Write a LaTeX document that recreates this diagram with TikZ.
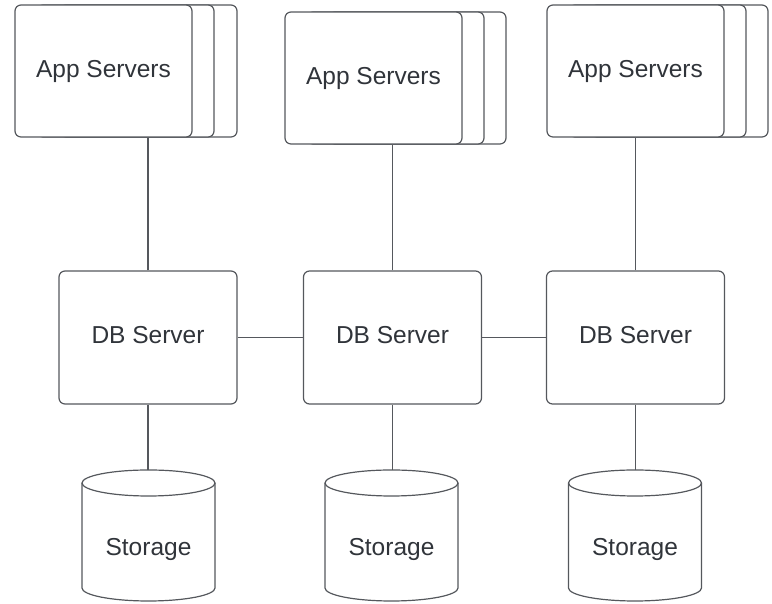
\documentclass[tikz,border=0pt]{standalone}
\usepackage{fontspec}
\setmainfont{Liberation Sans}
\definecolor{edge}{HTML}{55585D}
\definecolor{txt}{HTML}{30343A}
\begin{document}
\begin{tikzpicture}[x=1pt,y=1pt,
  box/.style={draw=edge,line width=1.2pt,fill=white,rounded corners=6pt,
    minimum width=177pt,minimum height=132pt,inner sep=0pt,
    font=\fontsize{24.5}{28}\selectfont,text=txt},
  dbbox/.style={box,minimum width=178pt,minimum height=133pt},
  lbl/.style={inner sep=0pt,font=\fontsize{24.5}{28}\selectfont,text=txt},
  wire/.style={draw=edge,line width=1.2pt},
  cyl/.style={draw=edge,line width=1.2pt,fill=white}]
\useasboundingbox (0,0) rectangle (772,604);
% App server stacks
\node[box] (a1c) at (148.5,533) {};
\node[box] (a1b) at (125.5,533) {};
\node[box] (a1) at (103.5,533) {\raisebox{5pt}{App Servers}};
\node[box] (a2c) at (417.5,526) {};
\node[box] (a2b) at (395.5,526) {};
\node[box] (a2) at (373.5,526) {\raisebox{5pt}{App Servers}};
\node[box] (a3c) at (679.5,533) {};
\node[box] (a3b) at (657.5,533) {};
\node[box] (a3) at (635.5,533) {\raisebox{5pt}{App Servers}};
% DB servers
\node[dbbox] (d1) at (148,266.5) {\raisebox{5pt}{DB Server}};
\node[dbbox] (d2) at (392.5,266.5) {\raisebox{5pt}{DB Server}};
\node[dbbox] (d3) at (635.5,266.5) {\raisebox{5pt}{DB Server}};
% Storage cylinders
\foreach \cx/\n in {148.5/1,391.5/2,635/3}{
  \draw[cyl] (\cx-66.5,121) -- (\cx-66.5,16)
    arc[start angle=180,end angle=360,x radius=66.5,y radius=13]
    -- (\cx+66.5,121)
    arc[start angle=0,end angle=180,x radius=66.5,y radius=13] -- cycle;
  \draw[cyl,fill=none] (\cx-66.5,121)
    arc[start angle=180,end angle=360,x radius=66.5,y radius=13];
  \coordinate (t\n) at (\cx,134);
}
\node[lbl] (s1) at (148.5,55) {Storage};
\node[lbl] (s2) at (391.5,55) {Storage};
\node[lbl] (s3) at (635,55) {Storage};
% connectors
\draw[wire] (d1.north) -- (d1.north |- a1.south);
\draw[wire] (d2.north) -- (d2.north |- a2.south);
\draw[wire] (d3.north) -- (d3.north |- a3.south);
\draw[wire] (d1.south) -- (d1.south |- t1);
\draw[wire] (d2.south) -- (d2.south |- t2);
\draw[wire] (d3.south) -- (d3.south |- t3);
\draw[wire] (d1.east) -- (d2.west);
\draw[wire] (d2.east) -- (d3.west);
\end{tikzpicture}
\end{document}
